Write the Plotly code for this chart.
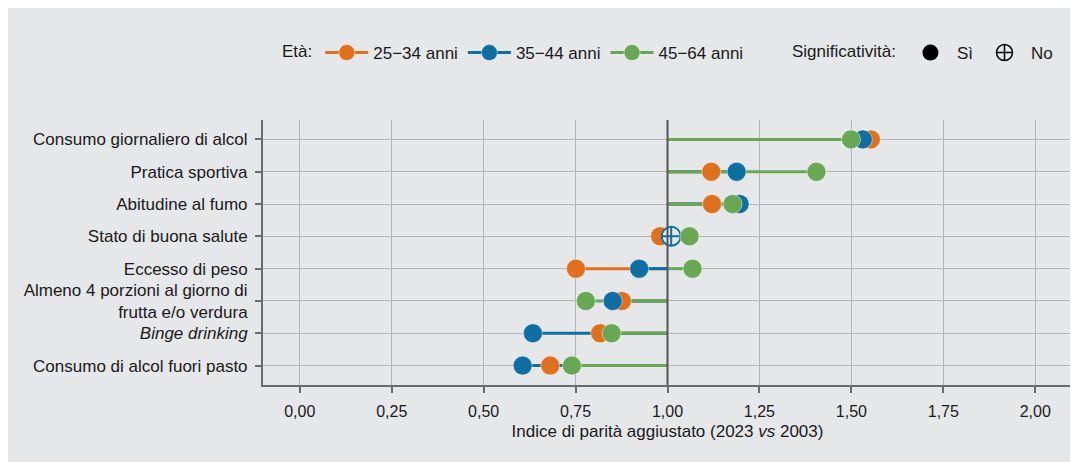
import plotly.graph_objects as go

# ---------------- data ----------------
rows = [
    "Consumo giornaliero di alcol",
    "Pratica sportiva",
    "Abitudine al fumo",
    "Stato di buona salute",
    "Eccesso di peso",
    "Almeno 4 porzioni al giorno di<br>frutta e/o verdura",
    "<i>Binge drinking</i>",
    "Consumo di alcol fuori pasto",
]
groups = ["25\u221234 anni", "35\u221244 anni", "45\u221264 anni"]
v_25_34 = [1.553, 1.119, 1.121, 0.980, 0.751, 0.876, 0.817, 0.681]
v_35_44 = [1.531, 1.188, 1.196, 1.010, 0.923, 0.851, 0.634, 0.606]
v_45_64 = [1.499, 1.405, 1.177, 1.060, 1.068, 0.778, 0.848, 0.740]
sig_25_34 = [True, True, True, True, True, True, True, True]
sig_35_44 = [True, True, True, False, True, True, True, True]
sig_45_64 = [True, True, True, True, True, True, True, True]
x_ticks = [0, 0.25, 0.5, 0.75, 1.0, 1.25, 1.5, 1.75, 2.0]
x_ticktext = ["0,00", "0,25", "0,50", "0,75", "1,00", "1,25", "1,50", "1,75", "2,00"]
parity = 1.0

# ---------------- style ----------------
colors = ["#E0701E", "#0F6FA3", "#68A854"]
BG = "#E6E7E9"
FONT = "Liberation Sans, Arial, sans-serif"
values = [v_25_34, v_35_44, v_45_64]
sigs = [sig_25_34, sig_35_44, sig_45_64]
ypos = list(range(len(rows)))

fig = go.Figure()

# segments from parity to each value
for vals, col in zip(values, colors):
    xs, ys = [], []
    for y, v in zip(ypos, vals):
        xs += [parity, v, None]
        ys += [y, y, None]
    fig.add_trace(go.Scatter(x=xs, y=ys, mode="lines", line=dict(color=col, width=3),
                             showlegend=False, hoverinfo="skip"))

# markers
for vals, sig, col, name in zip(values, sigs, colors, groups):
    fig.add_trace(go.Scatter(
        x=vals, y=ypos, mode="markers", name=name, showlegend=False,
        marker=dict(
            size=19,
            color=[col if s else BG for s in sig],
            symbol=["circle" if s else "circle-cross" for s in sig],
            line=dict(color=["rgba(255,255,255,0.45)" if s else col for s in sig],
                      width=[1 if s else 2 for s in sig]),
        ),
    ))

# legend entries
for col, name in zip(colors, groups):
    fig.add_trace(go.Scatter(x=[None], y=[None], mode="lines+markers", name=name,
                             line=dict(color=col, width=3),
                             marker=dict(size=16, color=col, line=dict(color="rgba(255,255,255,0.45)", width=1)),
                             legend="legend"))
fig.add_trace(go.Scatter(x=[None], y=[None], mode="markers", name="Sì",
                         marker=dict(size=16, color="black", symbol="circle"), legend="legend2"))
fig.add_trace(go.Scatter(x=[None], y=[None], mode="markers", name="No",
                         marker=dict(size=16, color="black", symbol="circle-cross-open", line=dict(width=1.5)),
                         legend="legend2"))

fig.add_shape(type="line", xref="x", yref="paper", x0=parity, x1=parity, y0=0, y1=1,
              line=dict(color="#555555", width=2), layer="above")

LEG_Y = 1 - 45 / 462
fig.update_layout(
    width=1078, height=462,
    paper_bgcolor=BG, plot_bgcolor=BG,
    margin=dict(l=255, r=14, t=112, b=85),
    font=dict(family=FONT, size=17, color="#1a1a1a"),
    xaxis=dict(range=[-0.1, 2.1], tickvals=x_ticks, ticktext=x_ticktext,
               showgrid=True, gridcolor="#B5B5B5", gridwidth=1.3, zeroline=False,
               showline=True, linecolor="#6B6B6B", linewidth=2,
               ticks="outside", ticklen=6, tickwidth=2, tickcolor="#6B6B6B",
               tickfont=dict(size=16), ticklabelstandoff=5,
               title=dict(text="Indice di parità aggiustato (2023 <i>vs</i> 2003)", font=dict(size=17), standoff=6)),
    yaxis=dict(range=[len(rows) - 0.4, -0.6], tickvals=ypos, ticktext=rows,
               showgrid=True, gridcolor="#B5B5B5", gridwidth=1.3, zeroline=False,
               showline=True, linecolor="#6B6B6B", linewidth=2,
               ticks="outside", ticklen=6, tickwidth=2, tickcolor="#6B6B6B",
               tickfont=dict(size=17), ticklabelstandoff=4),
    legend=dict(orientation="h", xref="container", yref="container",
                x=272 / 1078, y=LEG_Y, xanchor="left", yanchor="middle",
                title=dict(text="Età:", font=dict(size=17)), font=dict(size=17),
                bgcolor="rgba(0,0,0,0)", itemwidth=43),
    legend2=dict(orientation="h", xref="container", yref="container",
                 x=782 / 1078, y=LEG_Y, xanchor="left", yanchor="middle",
                 title=dict(text="Significatività:", font=dict(size=17)), font=dict(size=17),
                 bgcolor="rgba(0,0,0,0)", itemwidth=43),
)

fig.write_html("out.html")
